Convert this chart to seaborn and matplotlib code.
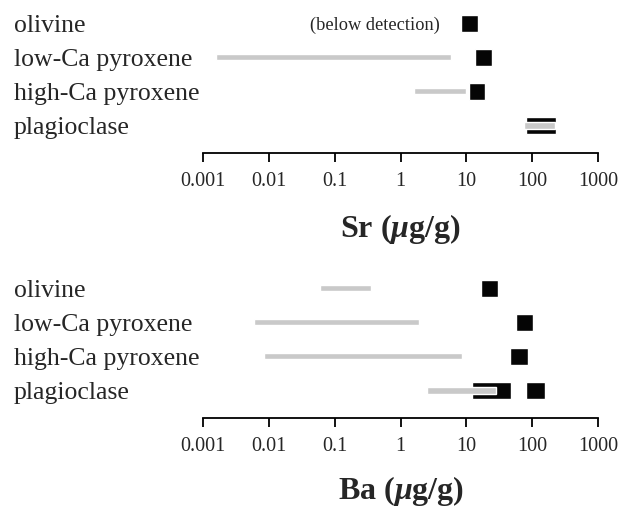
import numpy as np
import pandas as pd
import seaborn as sns
import matplotlib
matplotlib.use("Agg")
import matplotlib.pyplot as plt

# ---- data ----
minerals = ["olivine", "low-Ca pyroxene", "high-Ca pyroxene", "plagioclase"]

sr_gray_low = [np.nan, 0.0016, 1.6, 76]
sr_gray_high = [np.nan, 5.9, 10.0, 225]
sr_black_low = [8.3, 13.7, 11.0, 82]
sr_black_high = [14.8, 24.7, 19.0, 233]

ba_gray_low = [0.060, 0.0059, 0.0085, 2.5]
ba_gray_high = [0.355, 1.94, 8.7, 28.2]
ba_black_low = [16.6, 56.6, 45.8, 12.0]
ba_black_high = [30.5, 103, 85, 47.5]
ba_extra_mineral = ["plagioclase"]
ba_extra_low = [82]
ba_extra_high = [159]

tick_values = [0.001, 0.01, 0.1, 1, 10, 100, 1000]
tick_labels = ["0.001", "0.01", "0.1", "1", "10", "100", "1000"]
titles = ["Sr", "Ba"]
note_text = "(below detection)"

# ---- style ----
sns.set_theme(style="white")
plt.rcParams["font.family"] = ["Liberation Serif", "DejaVu Serif"]
plt.rcParams["mathtext.fontset"] = "custom"
plt.rcParams["mathtext.it"] = "Liberation Serif:italic:bold"
plt.rcParams["mathtext.rm"] = "Liberation Serif:bold"
plt.rcParams["mathtext.bf"] = "Liberation Serif:bold"

GRAY = "#c9c9c9"
BLACK = "#050505"

W, H = 633, 507
fig = plt.figure(figsize=(W / 100, H / 100), dpi=100)

left = 203 / W
width = (598 - 203) / W
ax_top = fig.add_axes([left, 1 - 153 / H, width, (153 - 6) / H])
ax_bot = fig.add_axes([left, 1 - 418 / H, width, (418 - 271) / H])


def draw(ax, gray_lo, gray_hi, black_lo, black_hi, title, labelpad):
    df_b = pd.DataFrame({"m": minerals, "lo": black_lo, "hi": black_hi})
    df_g = pd.DataFrame({"m": minerals, "lo": gray_lo, "hi": gray_hi})
    pos = {m: i for i, m in enumerate(minerals)}
    yb = df_b["m"].map(pos)
    ax.barh(yb, df_b["hi"] - df_b["lo"], left=df_b["lo"], height=0.5,
            color=BLACK, zorder=2)
    g = df_g.dropna()
    ax.barh(g["m"].map(pos), g["hi"] - g["lo"], left=g["lo"], height=0.2,
            color=GRAY, zorder=3)
    ax.set_xscale("log")
    ax.set_xlim(tick_values[0], tick_values[-1])
    ax.set_ylim(3.82, -0.5)
    ax.set_xticks(tick_values)
    ax.set_xticklabels(tick_labels)
    ax.minorticks_off()
    ax.tick_params(axis="x", which="major", direction="out", length=6.5,
                   width=1.3, color="black", labelsize=14.5, pad=7,
                   bottom=True)
    ax.set_yticks(range(len(minerals)))
    ax.set_yticklabels(minerals, fontsize=18.5)
    for lab in ax.get_yticklabels():
        lab.set_horizontalalignment("left")
    ax.tick_params(axis="y", length=0, pad=189 * 0.72)
    sns.despine(ax=ax, left=True, top=True, right=True)
    ax.spines["bottom"].set_linewidth(1.3)
    ax.spines["bottom"].set_color("black")
    ax.set_xlabel(title + r" ($\mathit{\mu}$g/g)", fontsize=23,
                  fontweight="bold", labelpad=labelpad)
    ax.patch.set_alpha(0)
    return pos


pos = draw(ax_top, sr_gray_low, sr_gray_high, sr_black_low, sr_black_high,
           titles[0], 15)
ax_top.annotate(note_text, xy=(sr_black_low[0], pos["olivine"]),
                xytext=(-15, -1.5), textcoords="offset points",
                ha="right", va="center", fontsize=13.2)

pos = draw(ax_bot, ba_gray_low, ba_gray_high, ba_black_low, ba_black_high,
           titles[1], 13)
ax_bot.barh([pos[m] for m in ba_extra_mineral],
            np.array(ba_extra_high) - np.array(ba_extra_low),
            left=ba_extra_low, height=0.5, color=BLACK, zorder=2)

fig.savefig("out.png", dpi=100)
